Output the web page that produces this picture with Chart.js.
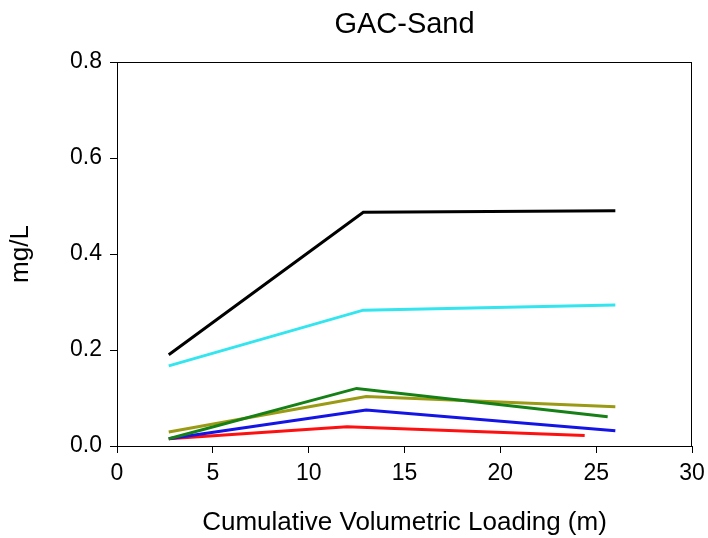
<!DOCTYPE html>
<html>
<head>
<meta charset="utf-8">
<script src="https://cdn.jsdelivr.net/npm/chart.js@4/dist/chart.umd.min.js"></script>
<style>
  html, body { margin: 0; padding: 0; background: #fff; }
  #wrap { width: 708px; height: 538px; }
</style>
</head>
<body>
<div id="wrap"><canvas id="chart" width="708" height="538"></canvas></div>
<script>
// GAC-Sand chart data
const seriesNames = ['Black', 'Cyan', 'Green', 'Olive', 'Blue', 'Red'];
const seriesColors = ['#000000', '#33e5ee', '#158015', '#9a9a14', '#1414e6', '#ff1010'];

const blackX = [2.7, 12.85, 26.0];
const blackY = [0.190, 0.487, 0.490];
const cyanX = [2.7, 12.85, 26.0];
const cyanY = [0.167, 0.283, 0.294];
const greenX = [2.7, 12.5, 25.6];
const greenY = [0.015, 0.120, 0.061];
const oliveX = [2.7, 13.0, 26.0];
const oliveY = [0.029, 0.103, 0.082];
const blueX = [2.7, 13.0, 26.0];
const blueY = [0.015, 0.075, 0.032];
const redX = [2.7, 12.0, 24.4];
const redY = [0.015, 0.040, 0.022];

const xTicks = [0, 5, 10, 15, 20, 25, 30];
const yTicks = [0.0, 0.2, 0.4, 0.6, 0.8];

const allX = [blackX, cyanX, greenX, oliveX, blueX, redX];
const allY = [blackY, cyanY, greenY, oliveY, blueY, redY];

const fontFamily = '"Liberation Sans", Arial, sans-serif';

// Frame around the plot area plus title centered over it
const framePlugin = {
    id: 'frame',
    afterDraw(chart) {
        const { ctx, chartArea: a } = chart;
        ctx.save();
        ctx.strokeStyle = '#000';
        ctx.lineWidth = 1;
        ctx.strokeRect(a.left + 0.5, a.top + 0.5, a.right - a.left - 1, a.bottom - a.top);
        ctx.fillStyle = '#000';
        ctx.font = '29px ' + fontFamily;
        ctx.textAlign = 'center';
        ctx.textBaseline = 'middle';
        ctx.fillText('GAC-Sand', (a.left + a.right) / 2, 25);
        ctx.restore();
    }
};

const datasets = seriesNames.map((name, i) => ({
    label: name,
    data: allX[i].map((x, j) => ({ x: x, y: allY[i][j] })),
    borderColor: seriesColors[i],
    backgroundColor: seriesColors[i],
    borderWidth: 3,
    pointRadius: 0,
    tension: 0,
    fill: false
}));

const tickFont = { family: fontFamily, size: 23 };
const titleFont = { family: fontFamily, size: 26 };

new Chart(document.getElementById('chart'), {
    type: 'line',
    data: { datasets: datasets },
    options: {
        responsive: false,
        animation: false,
        layout: { padding: { top: 62, right: 16, bottom: 0, left: 0 } },
        plugins: {
            legend: { display: false },
            tooltip: { enabled: false },
            title: { display: false }
        },
        scales: {
            x: {
                type: 'linear',
                min: 0,
                max: 30,
                afterBuildTicks: s => { s.ticks = xTicks.map(v => ({ value: v })); },
                afterFit: s => { s.height = 92; s.paddingLeft = 0; s.paddingRight = 0; },
                grid: { display: true, drawOnChartArea: false, drawTicks: true, tickLength: 7, color: '#000' },
                border: { display: false },
                ticks: { color: '#000', font: tickFont, padding: 7, maxRotation: 0, callback: v => v },
                title: { display: true, text: 'Cumulative Volumetric Loading (m)', color: '#000', font: titleFont, padding: { top: 0, bottom: 0 } }
            },
            y: {
                type: 'linear',
                min: 0,
                max: 0.8,
                afterBuildTicks: s => { s.ticks = yTicks.map(v => ({ value: v })); },
                afterFit: s => { s.width = 117; s.paddingTop = 0; s.paddingBottom = 0; },
                grid: { display: true, drawOnChartArea: false, drawTicks: true, tickLength: 7, color: '#000' },
                border: { display: false },
                ticks: { color: '#000', font: tickFont, padding: 8, callback: v => Number(v).toFixed(1) },
                title: { display: true, text: 'mg/L', color: '#000', font: titleFont, padding: { top: 5, bottom: 0 } }
            }
        }
    },
    plugins: [framePlugin]
});
</script>
</body>
</html>
